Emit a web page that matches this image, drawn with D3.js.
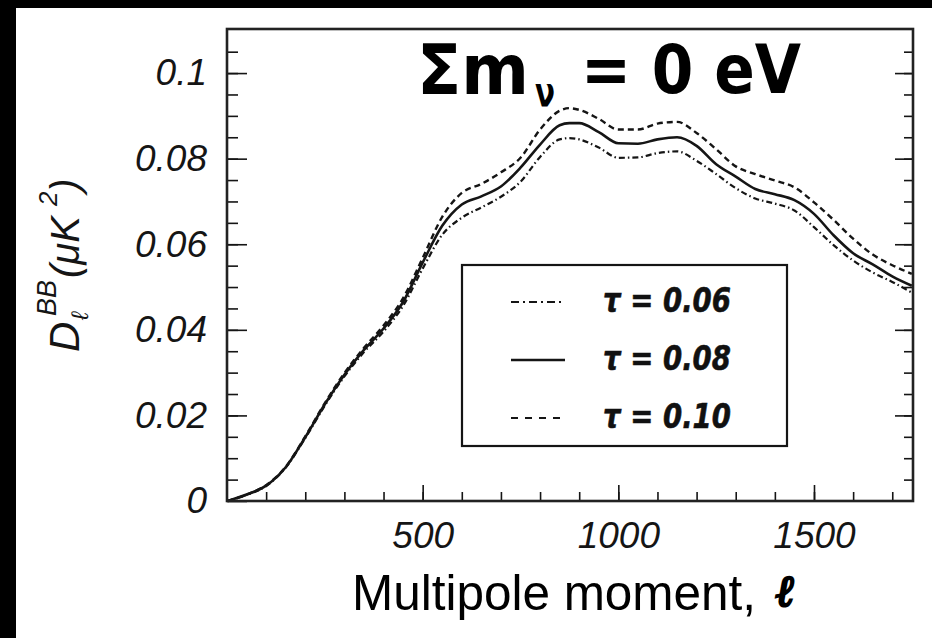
<!DOCTYPE html>
<html>
<head>
<meta charset="utf-8">
<script src="https://cdn.jsdelivr.net/npm/d3@7"></script>
<style>
  html, body { margin: 0; padding: 0; background: #fff; overflow: hidden; }
  svg { display: block; }
</style>
</head>
<body>
<div id="container"></div>
<script>
const W = 932;
const H = 638;

// multipole moments and D_l^BB values (uK^2)
const ell = [2, 50, 100, 150, 200, 250, 300, 350, 400, 450, 500, 550, 600, 650, 700, 750, 800, 850, 875, 900,
  950, 1000, 1050, 1100, 1150, 1200, 1250, 1300, 1350, 1400, 1450, 1500, 1550, 1600, 1650, 1700, 1750];
const tau06 = [0, 0.0014, 0.0035, 0.0078, 0.0147, 0.0223, 0.0291, 0.0348, 0.0396, 0.0456, 0.0543, 0.0622, 0.0662,
  0.0686, 0.0711, 0.0746, 0.0804, 0.0845, 0.0848, 0.0845, 0.0826, 0.0802, 0.0803, 0.0813, 0.0817, 0.0795, 0.0764,
  0.0731, 0.0707, 0.0695, 0.0679, 0.0640, 0.0598, 0.0562, 0.0534, 0.0512, 0.0487];
const tau08 = [0, 0.0015, 0.0036, 0.0079, 0.0149, 0.0226, 0.0295, 0.0353, 0.0403, 0.0465, 0.0557, 0.0643, 0.0693,
  0.0712, 0.0735, 0.0779, 0.0833, 0.0878, 0.0883, 0.0883, 0.0862, 0.0836, 0.0835, 0.0845, 0.0850, 0.0830, 0.0787,
  0.0758, 0.0729, 0.0717, 0.0703, 0.0671, 0.0621, 0.0579, 0.0553, 0.0525, 0.0503];
const tau10 = [0, 0.0015, 0.0037, 0.0080, 0.0151, 0.0229, 0.0299, 0.0358, 0.0410, 0.0474, 0.0568, 0.0664, 0.0720,
  0.0741, 0.0768, 0.0802, 0.0868, 0.0912, 0.0918, 0.0914, 0.0893, 0.0868, 0.0868, 0.0882, 0.0886, 0.0860, 0.0822,
  0.0782, 0.0764, 0.0749, 0.0733, 0.0698, 0.0657, 0.0613, 0.0576, 0.0551, 0.0531];

const xMajor = [500, 1000, 1500];
const xLabels = ['500', '1000', '1500'];
const yMajor = [0, 0.02, 0.04, 0.06, 0.08, 0.1];
const yLabels = ['0', '0.02', '0.04', '0.06', '0.08', '0.1'];
const legendLabels = ['τ = 0.06', 'τ = 0.08', 'τ = 0.10'];

const series = [
  { name: legendLabels[0], values: tau06, dash: '6,3,1.5,3', width: 2.2 },
  { name: legendLabels[1], values: tau08, dash: null, width: 2.6 },
  { name: legendLabels[2], values: tau10, dash: '6,4', width: 2.4 }
];

const svg = d3.select('#container')
  .append('svg')
  .attr('width', W)
  .attr('height', H);

// white page with a black strip on the top and left
svg.append('rect').attr('width', W).attr('height', H).attr('fill', '#fff');
svg.append('rect').attr('width', W).attr('height', 8).attr('fill', '#000');
svg.append('rect').attr('width', 16).attr('height', H).attr('fill', '#000');

const x = d3.scaleLinear().domain([0, 1753]).range([227, 913]);
const y = d3.scaleLinear().domain([0, 0.1103]).range([501, 29]);

const ink = '#151515';

// ticks, all pointing inwards
const left = svg.append('g').attr('transform', `translate(${x.range()[0]},0)`);
left.call(d3.axisLeft(y).tickValues(d3.range(0.005, 0.108, 0.005)).tickSizeInner(-11).tickSizeOuter(0).tickFormat(''));
const leftMaj = svg.append('g').attr('transform', `translate(${x.range()[0]},0)`);
leftMaj.call(d3.axisLeft(y).tickValues(yMajor).tickSizeInner(-20).tickSizeOuter(0).tickPadding(20)
  .tickFormat((d, i) => yLabels[i]));

const right = svg.append('g').attr('transform', `translate(${x.range()[1]},0)`);
right.call(d3.axisRight(y).tickValues(d3.range(0.005, 0.108, 0.005)).tickSizeInner(-9).tickSizeOuter(0).tickFormat(''));
const rightMaj = svg.append('g').attr('transform', `translate(${x.range()[1]},0)`);
rightMaj.call(d3.axisRight(y).tickValues(yMajor.slice(1)).tickSizeInner(-18).tickSizeOuter(0).tickFormat(''));

const bottom = svg.append('g').attr('transform', `translate(0,${y.range()[0]})`);
bottom.call(d3.axisBottom(x).tickValues(d3.range(100, 1751, 100)).tickSizeInner(-9).tickSizeOuter(0).tickFormat(''));
const bottomMaj = svg.append('g').attr('transform', `translate(0,${y.range()[0]})`);
bottomMaj.call(d3.axisBottom(x).tickValues(xMajor).tickSizeInner(-16).tickSizeOuter(0).tickPadding(21)
  .tickFormat((d, i) => xLabels[i]));

svg.selectAll('.domain').remove();
svg.selectAll('.tick line').attr('stroke', ink).attr('stroke-width', 1.6);
svg.selectAll('.tick text')
  .attr('fill', ink)
  .style('font-family', '"Liberation Sans", Arial, sans-serif')
  .style('font-style', 'italic')
  .style('font-size', '37px');

// curves
const line = d3.line()
  .x((d, i) => x(ell[i]))
  .y(d => y(d))
  .curve(d3.curveMonotoneX);

svg.append('g')
  .selectAll('path')
  .data(series)
  .join('path')
  .attr('fill', 'none')
  .attr('stroke', ink)
  .attr('stroke-width', d => d.width)
  .attr('stroke-dasharray', d => d.dash)
  .attr('d', d => line(d.values));

// frame
svg.append('rect')
  .attr('x', x.range()[0])
  .attr('y', y.range()[1])
  .attr('width', x.range()[1] - x.range()[0])
  .attr('height', y.range()[0] - y.range()[1])
  .attr('fill', 'none')
  .attr('stroke', '#222')
  .attr('stroke-width', 2.6);

// legend
const legend = svg.append('g');
legend.append('rect')
  .attr('x', 462).attr('y', 265)
  .attr('width', 325).attr('height', 181)
  .attr('fill', '#fff')
  .attr('stroke', ink)
  .attr('stroke-width', 2.2);

const rows = legend.selectAll('g.row')
  .data(series)
  .join('g')
  .attr('class', 'row')
  .attr('transform', (d, i) => `translate(0,${302 + i * 58})`);

rows.append('line')
  .attr('x1', 511).attr('x2', 565)
  .attr('stroke', ink)
  .attr('stroke-width', d => d.dash ? 2.2 : 2.4)
  .attr('stroke-dasharray', (d, i) => i === 0 ? '8,4,2,4' : (i === 2 ? '7,7' : null));

rows.append('text')
  .attr('x', 603)
  .attr('y', 10)
  .attr('textLength', 128)
  .attr('lengthAdjust', 'spacingAndGlyphs')
  .attr('fill', '#111')
  .attr('stroke', '#111')
  .attr('stroke-width', 0.6)
  .style('font-family', '"DejaVu Sans", Verdana, sans-serif')
  .style('font-weight', 'bold')
  .style('font-style', 'italic')
  .style('font-size', '33px')
  .text(d => d.name);

// title
const titleFont = '"DejaVu Sans", Verdana, sans-serif';
svg.append('text')
  .attr('x', 417).attr('y', 94)
  .attr('textLength', 112).attr('lengthAdjust', 'spacingAndGlyphs')
  .style('font-family', titleFont).style('font-weight', 'bold').style('font-size', '70px')
  .text('Σm');
svg.append('text')
  .attr('x', 535).attr('y', 106)
  .attr('textLength', 20).attr('lengthAdjust', 'spacingAndGlyphs')
  .style('font-family', titleFont).style('font-weight', 'bold').style('font-size', '40px')
  .text('ν');
svg.append('text')
  .attr('x', 581).attr('y', 93)
  .attr('textLength', 220).attr('lengthAdjust', 'spacingAndGlyphs')
  .style('font-family', titleFont).style('font-weight', 'bold').style('font-size', '68px')
  .text('= 0 eV');

// x axis title
svg.append('text')
  .attr('x', 352).attr('y', 610)
  .attr('textLength', 404).attr('lengthAdjust', 'spacingAndGlyphs')
  .style('font-family', '"Liberation Sans", Arial, sans-serif')
  .style('font-size', '50px')
  .text('Multipole moment,');
svg.append('text')
  .attr('x', 776).attr('y', 606)
  .attr('stroke', '#000').attr('stroke-width', 2.4)
  .style('font-family', '"DejaVu Serif", serif')
  .style('font-weight', 'bold').style('font-style', 'italic')
  .style('font-size', '44px')
  .text('ℓ');

// y axis title, rotated
const yl = svg.append('g')
  .attr('transform', 'translate(79,352) rotate(-90)')
  .style('font-family', '"Liberation Sans", Arial, sans-serif')
  .style('font-style', 'italic')
  .attr('fill', ink);
yl.append('text').attr('x', 0).attr('y', 0).style('font-size', '42px').text('D');
yl.append('text').attr('x', 36).attr('y', -23).style('font-size', '27px').text('BB');
yl.append('text').attr('x', 32).attr('y', 9).style('font-size', '24px').text('ℓ');
yl.append('text').attr('x', 74).attr('y', 0).style('font-size', '40px').text('(μK');
yl.append('text').attr('x', 146).attr('y', -22).style('font-size', '26px').text('2');
yl.append('text').attr('x', 160).attr('y', 0).style('font-size', '40px').text(')');
</script>
</body>
</html>
